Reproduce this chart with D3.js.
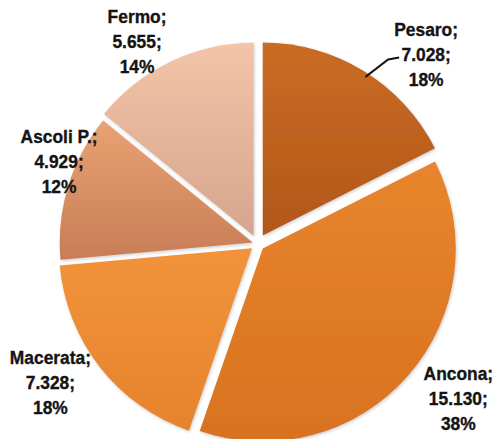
<!DOCTYPE html>
<html>
<head>
<meta charset="utf-8">
<script src="https://cdn.jsdelivr.net/npm/d3@7"></script>
<style>
  html, body { margin: 0; padding: 0; background: #ffffff; }
  svg { display: block; }
  text { font-family: "Liberation Sans", Arial, sans-serif; font-weight: bold; fill: #141414; stroke: #141414; stroke-width: 0.35px; }
</style>
</head>
<body>
<svg id="chart" width="493" height="439"></svg>
<script>
// Provinces of the Marche region and their counts
const regions = ["Pesaro", "Ancona", "Macerata", "Ascoli P.", "Fermo"];
const values = [7028, 15130, 7328, 4929, 5655];
// Slice fills: light (top) and dark (bottom) stops of each gradient
const colorsTop = ["#c96c24", "#e8852d", "#f2933b", "#e9a273", "#f3c4a7"];
const colorsBottom = ["#b2571a", "#d8721f", "#e6832c", "#c87d56", "#d5a58e"];

const width = 493, height = 439;
const cx = 257.5, cy = 244;
const radius = 193;
// how far each slice is pulled out from the centre
const explode = [10, 7, 7, 5, 9];

const svg = d3.select("#chart");
const defs = svg.append("defs");

defs.append("filter")
  .attr("id", "softShadow")
  .attr("x", "-10%").attr("y", "-10%").attr("width", "120%").attr("height", "120%")
  .append("feDropShadow")
  .attr("dx", 1).attr("dy", 1.5).attr("stdDeviation", 1.5)
  .attr("flood-color", "#7a7a7a").attr("flood-opacity", 0.35);

regions.forEach((r, i) => {
  const g = defs.append("linearGradient")
    .attr("id", "grad" + i)
    .attr("x1", 0).attr("y1", 0).attr("x2", 0).attr("y2", 1);
  g.append("stop").attr("offset", "0%").attr("stop-color", colorsTop[i]);
  g.append("stop").attr("offset", "100%").attr("stop-color", colorsBottom[i]);
});

const pie = d3.pie().sort(null).value(d => d)(values);
const arc = d3.arc().innerRadius(0).outerRadius(radius);
const labelArc = d3.arc().innerRadius(240).outerRadius(240);

const total = d3.sum(values);
const it = d3.formatLocale({ decimal: ",", thousands: ".", grouping: [3], currency: ["€", ""] });
const fmtValue = it.format(",d");
const fmtPct = d => Math.round(d / total * 100) + "%";

const midAngle = d => (d.startAngle + d.endAngle) / 2;
const offsetOf = (d, i) => [explode[i] * Math.sin(midAngle(d)), -explode[i] * Math.cos(midAngle(d))];

// per-slice shift of each label from its slice's outer centroid
const labelNudge = [[43, 21], [20, 3], [-18, -3], [31, -6], [-17.5, 21]];

const root = svg.append("g").attr("transform", `translate(${cx},${cy})`);

root.selectAll("path.slice")
  .data(pie)
  .join("path")
  .attr("class", "slice")
  .attr("d", arc)
  .attr("fill", (d, i) => `url(#grad${i})`)
  .attr("filter", "url(#softShadow)")
  .attr("transform", (d, i) => `translate(${offsetOf(d, i)})`);

// label positions
const labelPos = pie.map((d, i) => {
  const c = labelArc.centroid(d);
  return [c[0] + labelNudge[i][0], c[1] + labelNudge[i][1]];
});

// leader line for the Pesaro label
{
  const d = pie[0];
  const a = 0.575;
  const [ox, oy] = offsetOf(d, 0);
  const sx = ox + (radius - 4) * Math.sin(a), sy = oy - (radius - 4) * Math.cos(a);
  const [lx, ly] = labelPos[0];
  root.append("path")
    .attr("d", d3.line()([[sx, sy], [lx - 38, ly - 1], [lx - 27, ly - 3]]))
    .attr("fill", "none")
    .attr("stroke", "#141414")
    .attr("stroke-width", 2);
}

const labels = root.selectAll("text.lbl")
  .data(pie)
  .join("text")
  .attr("class", "lbl")
  .attr("text-anchor", "middle")
  .style("font-size", "18.5px")
  .attr("transform", (d, i) => `translate(${labelPos[i][0]},${labelPos[i][1]}) scale(0.94,1)`);

labels.each(function(d, i) {
  const t = d3.select(this);
  const lines = [regions[i] + ";", fmtValue(values[i]) + ";", fmtPct(values[i])];
  lines.forEach((s, k) => {
    t.append("tspan").attr("x", 0).attr("y", (k - 1) * 25).text(s);
  });
});
</script>
</body>
</html>
